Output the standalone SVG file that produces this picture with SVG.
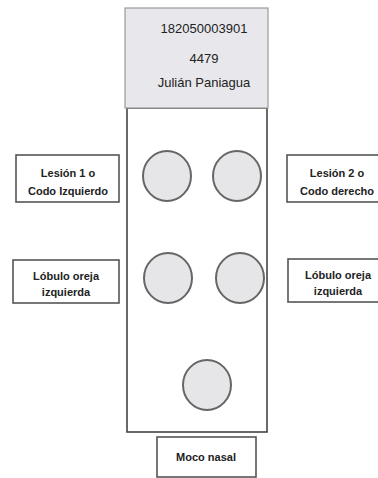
<svg xmlns="http://www.w3.org/2000/svg" width="378" height="478" viewBox="0 0 378 478">
<style>
.box{fill:#fff;stroke:#555;stroke-width:1.6}
.hdr{fill:#e8e8ec;stroke:#9a9a9a;stroke-width:1.2}
.main{fill:#fff;stroke:#444;stroke-width:1.6}
.c{fill:#e6e6e8;stroke:#666;stroke-width:2}
.t{font-family:"Liberation Sans",Arial,sans-serif;font-size:11px;font-weight:bold;fill:#222;text-anchor:middle}
.h{font-family:"Liberation Sans",Arial,sans-serif;font-size:13px;fill:#222;text-anchor:middle}
</style>
<rect width="378" height="478" fill="#fff"/>
<g id="main"><rect class="main" x="127" y="108" width="140" height="324"/></g>
<g id="header">
<rect class="hdr" x="125" y="8" width="143" height="100"/>
<text class="h" x="204" y="33">182050003901</text>
<text class="h" x="204" y="63">4479</text>
<text class="h" x="204" y="87">Julián  Paniagua</text>
</g>
<g id="c1"><ellipse class="c" cx="167" cy="176" rx="24" ry="25"/></g>
<g id="c2"><ellipse class="c" cx="237" cy="176" rx="24" ry="25"/></g>
<g id="c3"><ellipse class="c" cx="168" cy="278" rx="24" ry="25"/></g>
<g id="c4"><ellipse class="c" cx="240" cy="278" rx="24" ry="25"/></g>
<g id="c5"><ellipse class="c" cx="207" cy="385" rx="24" ry="25"/></g>
<g id="lbl-l1">
<rect class="box" x="16" y="155" width="103" height="47"/>
<text class="t" x="68" y="177">Lesión 1 o</text>
<text class="t" x="68" y="195">Codo Izquierdo</text>
</g>
<g id="lbl-r1">
<rect class="box" x="287" y="155" width="100" height="47"/>
<text class="t" x="337" y="177">Lesión 2 o</text>
<text class="t" x="337" y="195">Codo  derecho</text>
</g>
<g id="lbl-l2">
<rect class="box" x="13" y="260" width="106" height="43"/>
<text class="t" x="66" y="280">Lóbulo oreja</text>
<text class="t" x="66" y="296">izquierda</text>
</g>
<g id="lbl-r2">
<rect class="box" x="288" y="259" width="100" height="43"/>
<text class="t" x="338" y="279">Lóbulo oreja</text>
<text class="t" x="338" y="295">izquierda</text>
</g>
<g id="lbl-moco">
<rect class="box" x="157" y="437" width="99" height="40"/>
<text class="t" x="206" y="461">Moco nasal</text>
</g>
<g id="connectors"></g>
</svg>
